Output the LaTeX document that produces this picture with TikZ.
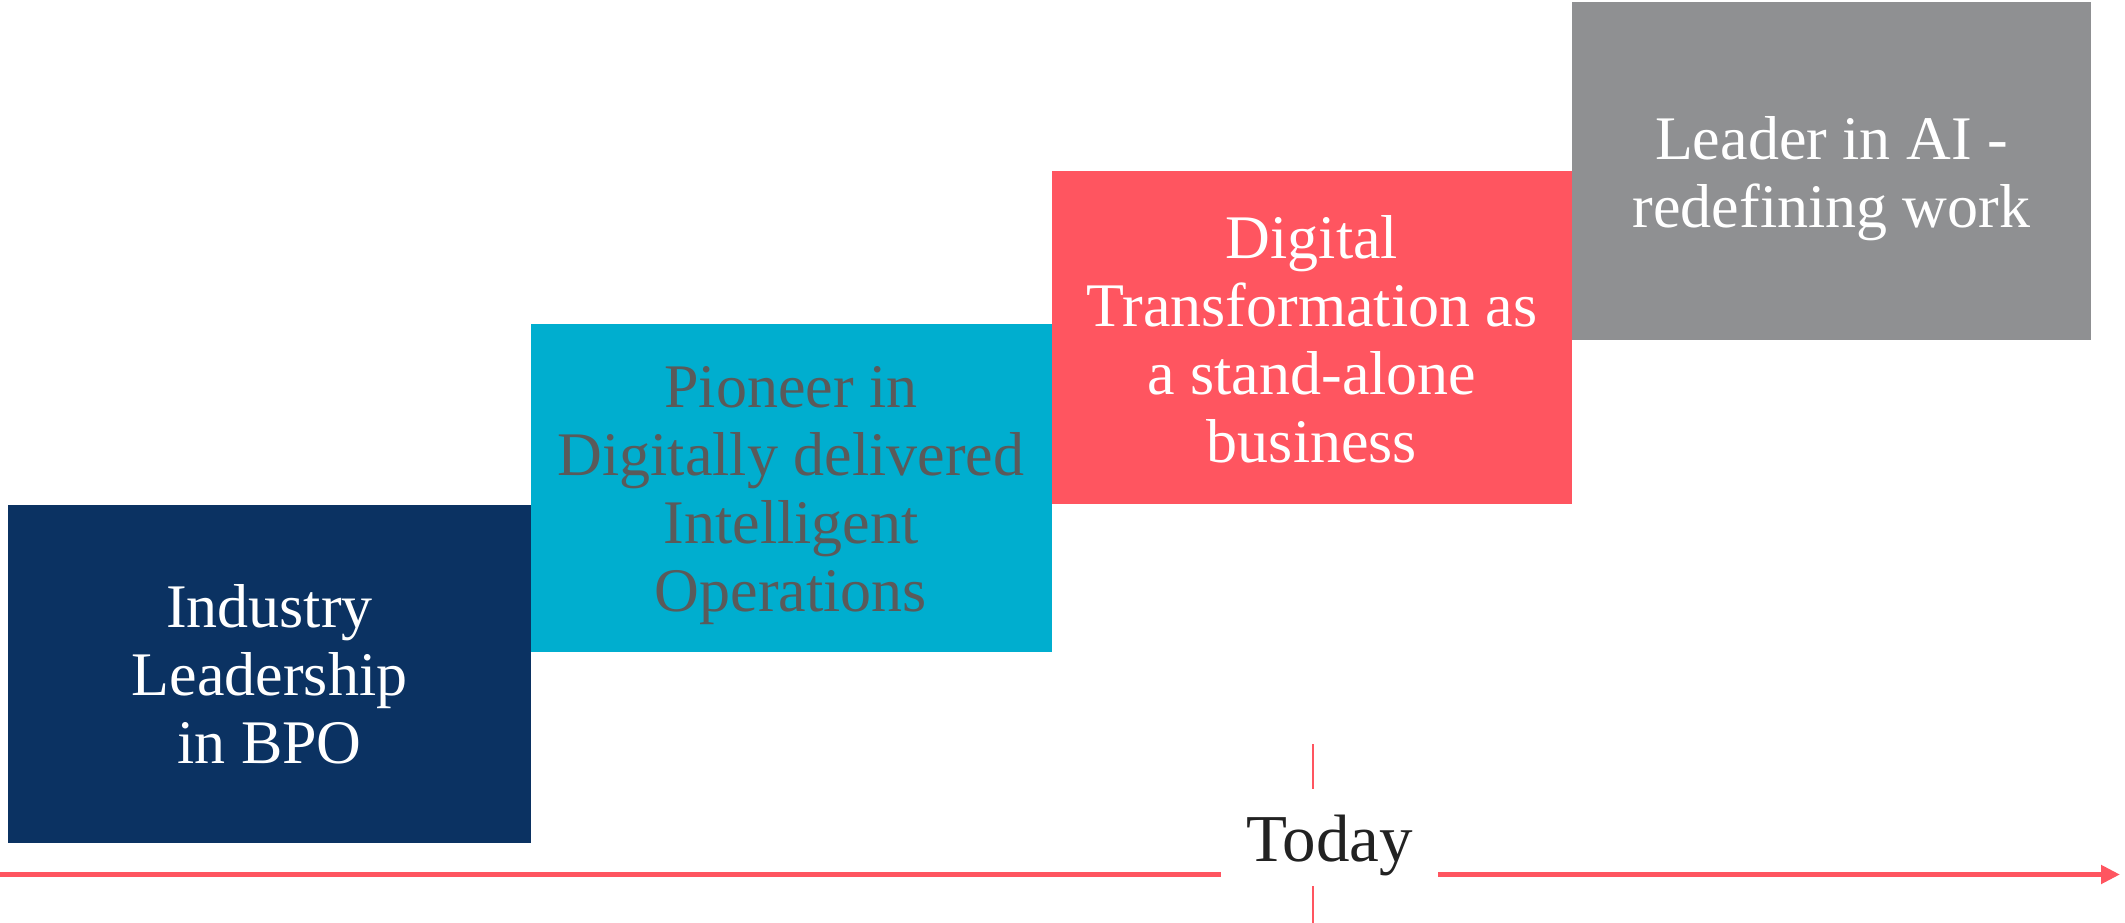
\documentclass[tikz,border=0pt]{standalone}
\usepackage{fontspec}
\setmainfont{Liberation Serif}
\usetikzlibrary{arrows.meta}
\definecolor{navyc}{HTML}{0B3262}
\definecolor{cyanc}{HTML}{00AECF}
\definecolor{redc}{HTML}{FF5560}
\definecolor{greyc}{HTML}{8F9092}
\definecolor{txtgrey}{HTML}{5A5A5A}
\definecolor{txtdark}{HTML}{222222}
\tikzset{
  stepbox/.style={rectangle, inner sep=0pt, draw=none},
  lbl/.style={align=center, inner sep=0pt, anchor=base, font=\fontsize{62}{68}\selectfont},
  axis/.style={draw=redc, line width=5pt},
  tick/.style={draw=redc, line width=1.8pt},
}
\begin{document}
\begin{tikzpicture}[x=1pt,y=-1pt]
\useasboundingbox (0,0) rectangle (2125,923);
% boxes
\node[stepbox, fill=navyc, minimum width=523pt, minimum height=338pt] (b1) at (269.5,674) {};
\node[stepbox, fill=cyanc, minimum width=521pt, minimum height=328pt] (b2) at (791,488) {};
\node[stepbox, fill=redc, minimum width=520pt, minimum height=333pt] (b3) at (1312,337.5) {};
\node[stepbox, fill=greyc, minimum width=519pt, minimum height=338pt] (b4) at (1831.5,171) {};
% labels (base anchor = baseline of the last line)
\node[lbl, text=white] (t1) at (269.5,763) {Industry\\Leadership\\in BPO};
\node[lbl, text=txtgrey] (t2) at (791,611) {Pioneer in\\Digitally delivered\\Intelligent\\Operations};
\node[lbl, text=white] (t3) at (1312,462) {Digital\\Transformation as\\a stand-alone\\business};
\node[lbl, text=white] (t4) at (1831.5,227) {Leader in AI -\\redefining work};
% timeline
\node[rectangle, inner sep=0pt, minimum width=217pt, minimum height=97pt,
      text height=47pt, text depth=0pt, text=txtdark,
      font=\fontsize{67}{70}\selectfont] (today) at (1329.5,837.5) {Today};
\coordinate (start) at (0,874.5);
\coordinate (end) at (2120,874.5);
\coordinate (ticktop) at (1313,744);
\coordinate (tickbot) at (1313,923);
\draw[axis] (start) -- (start -| today.west);
\draw[axis, -{Triangle[length=19pt, width=18pt]}] (start -| today.east) -- (end);
\draw[tick] (ticktop) -- (ticktop |- today.north);
\draw[tick] (tickbot |- today.south) -- (tickbot);
\end{tikzpicture}
\end{document}
